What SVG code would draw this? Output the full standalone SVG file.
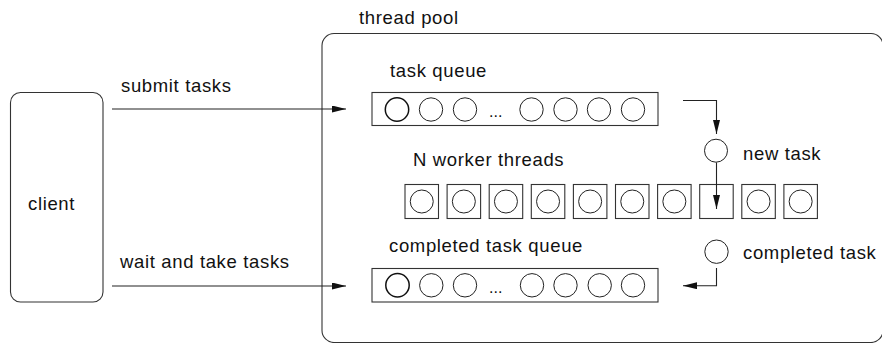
<svg xmlns="http://www.w3.org/2000/svg" width="882" height="343" viewBox="0 0 882 343">
<defs>
<style>
text{font-family:"Liberation Sans",Arial,Helvetica,sans-serif;font-size:18.5px;letter-spacing:0.65px;fill:#111}
.box{fill:#fff;stroke:#333;stroke-width:1.1}
.c{fill:#fff;stroke:#222;stroke-width:1}
.c1{fill:#fff;stroke:#111;stroke-width:1.5}
.ln{fill:none;stroke:#222;stroke-width:1.1}
</style>
<marker id="ah" markerUnits="userSpaceOnUse" markerWidth="15" markerHeight="8" refX="14" refY="3.5" orient="auto">
<path d="M0,0 L14,3.5 L0,7 z" fill="#111"/>
</marker>
</defs>
<rect width="882" height="343" fill="#fff"/>
<g id="pool">
<rect class="box" x="322" y="33.5" width="561" height="309" rx="12"/>
<text x="359" y="24">thread pool</text>
</g>
<g id="client">
<rect class="box" x="10.5" y="92.5" width="92.5" height="209.5" rx="10"/>
<text x="28" y="210">client</text>
</g>
<g id="task-queue">
<text x="390" y="77">task queue</text>
<rect class="box" x="372" y="92.5" width="286" height="33"/>
<circle class="c1" cx="397" cy="109.5" r="11.7"/>
<circle class="c" cx="431" cy="109.5" r="11.7"/>
<circle class="c" cx="465" cy="109.5" r="11.7"/>
<text x="489" y="117" style="letter-spacing:0;font-size:16px">...</text>
<circle class="c" cx="531.5" cy="109.5" r="11.7"/>
<circle class="c" cx="565.5" cy="109.5" r="11.7"/>
<circle class="c" cx="599" cy="109.5" r="11.7"/>
<circle class="c" cx="633" cy="109.5" r="11.7"/>
</g>
<g id="workers">
<text x="413" y="166">N worker threads</text>
<rect class="box" x="405" y="184.5" width="33.5" height="34"/><circle class="c" cx="421.75" cy="201.5" r="11.5"/>
<rect class="box" x="447.1" y="184.5" width="33.5" height="34"/><circle class="c" cx="463.85" cy="201.5" r="11.5"/>
<rect class="box" x="489.2" y="184.5" width="33.5" height="34"/><circle class="c" cx="505.95" cy="201.5" r="11.5"/>
<rect class="box" x="531.3" y="184.5" width="33.5" height="34"/><circle class="c" cx="548.05" cy="201.5" r="11.5"/>
<rect class="box" x="573.4" y="184.5" width="33.5" height="34"/><circle class="c" cx="590.15" cy="201.5" r="11.5"/>
<rect class="box" x="615.5" y="184.5" width="33.5" height="34"/><circle class="c" cx="632.25" cy="201.5" r="11.5"/>
<rect class="box" x="657.6" y="184.5" width="33.5" height="34"/><circle class="c" cx="674.35" cy="201.5" r="11.5"/>
<rect class="box" x="699.7" y="184.5" width="33.5" height="34"/>
<rect class="box" x="741.8" y="184.5" width="33.5" height="34"/><circle class="c" cx="758.55" cy="201.5" r="11.5"/>
<rect class="box" x="783.9" y="184.5" width="33.5" height="34"/><circle class="c" cx="800.65" cy="201.5" r="11.5"/>
</g>
<g id="new-task">
<circle class="c" cx="716" cy="150.7" r="11.5"/>
<text x="743" y="160">new task</text>
</g>
<g id="completed-task">
<circle class="c" cx="716.5" cy="251.7" r="11.7"/>
<text x="743" y="259">completed task</text>
</g>
<g id="completed-queue">
<text x="389" y="252">completed task queue</text>
<rect class="box" x="372" y="268.5" width="286" height="33.5"/>
<circle class="c1" cx="397.5" cy="285.3" r="11.7"/>
<circle class="c" cx="431.3" cy="285.3" r="11.7"/>
<circle class="c" cx="465" cy="285.3" r="11.7"/>
<text x="489" y="293" style="letter-spacing:0;font-size:16px">...</text>
<circle class="c" cx="532" cy="285.3" r="11.7"/>
<circle class="c" cx="565.5" cy="285.3" r="11.7"/>
<circle class="c" cx="599.7" cy="285.3" r="11.7"/>
<circle class="c" cx="633" cy="285.3" r="11.7"/>
</g>
<g id="connectors">
<text x="121" y="92">submit tasks</text>
<text x="120" y="268">wait and take tasks</text>
<line class="ln" x1="112" y1="109" x2="346" y2="109" marker-end="url(#ah)"/>
<line class="ln" x1="112" y1="286" x2="346" y2="286" marker-end="url(#ah)"/>
<polyline class="ln" points="683,100.5 716.5,100.5 716.5,134" marker-end="url(#ah)"/>
<line class="ln" x1="716.5" y1="162.5" x2="716.5" y2="209" marker-end="url(#ah)"/>
<polyline class="ln" points="716.5,268 716.5,285.7 683,285.7" marker-end="url(#ah)"/>
</g>
</svg>
